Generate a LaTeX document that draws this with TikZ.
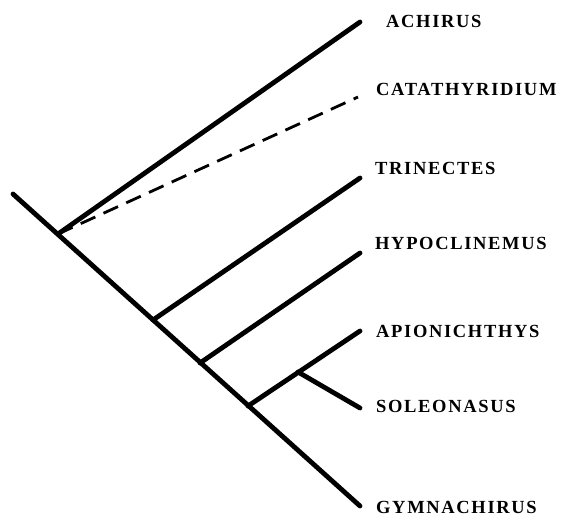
\documentclass[tikz,border=0pt]{standalone}
\usepackage{fontspec}
\setmainfont{Liberation Serif}[LetterSpace=9]
\tikzset{
  branch/.style={line width=4.8pt, line cap=round},
  uncertain/.style={line width=2.8pt, dash pattern=on 16pt off 9pt},
  taxon/.style={anchor=west, inner sep=0pt, font=\fontsize{18.5}{18.5}\selectfont\bfseries}
}
\begin{document}
\begin{tikzpicture}[x=1pt,y=-1pt]
\useasboundingbox (0,0) rectangle (563,520);
% internal nodes on the trunk
\coordinate (root) at (13,194);
\coordinate (n1) at (58,234);
\coordinate (n2) at (153,320);
\coordinate (n3) at (200,363);
\coordinate (n4) at (248,406);
\coordinate (n5) at (298,372);
% tips
\coordinate (achirus) at (360,22);
\coordinate (catathy) at (358,97);
\coordinate (trinectes) at (360,178);
\coordinate (hypocl) at (360,253);
\coordinate (apion) at (360,331);
\coordinate (soleon) at (360,408);
\coordinate (gymna) at (360,506);

\draw[branch] (root) -- (gymna);
\draw[branch] (n1) -- (achirus);
\draw[uncertain] (n1) -- (catathy);
\draw[branch] (n2) -- (trinectes);
\draw[branch] (n3) -- (hypocl);
\draw[branch] (n4) -- (apion);
\draw[branch] (n5) -- (soleon);

\node[taxon] (lachirus) at (386,21) {ACHIRUS};
\node[taxon] (lcatathy) at (376,89) {CATATHYRIDIUM};
\node[taxon] (ltrinectes) at (375,168) {TRINECTES};
\node[taxon] (lhypocl) at (375,243) {HYPOCLINEMUS};
\node[taxon] (lapion) at (376,331) {APIONICHTHYS};
\node[taxon] (lsoleon) at (376,406) {SOLEONASUS};
\node[taxon] (lgymna) at (376,507) {GYMNACHIRUS};
\end{tikzpicture}
\end{document}
